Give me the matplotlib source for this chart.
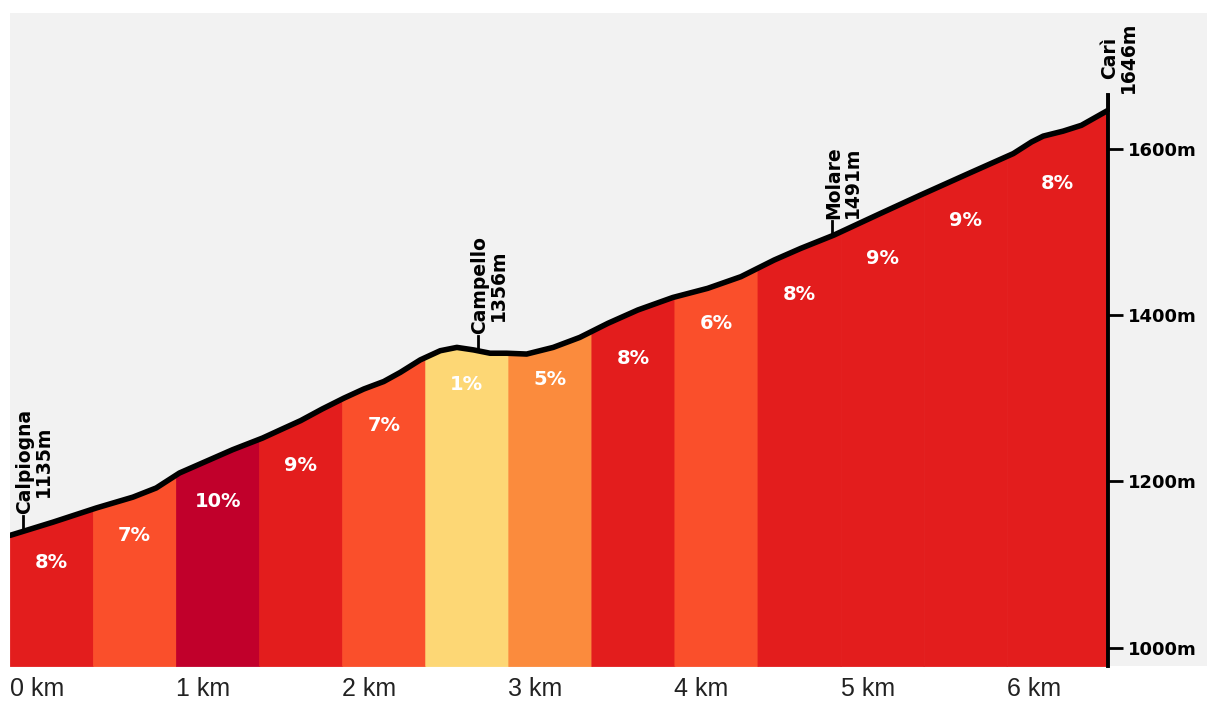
import numpy as np
import matplotlib.pyplot as plt
from matplotlib.patches import Rectangle


# elevation profile: distance (km) / elevation (m)
dist_km = np.array([0.00, 0.26, 0.52, 0.74, 0.88, 1.02, 1.18, 1.34, 1.52, 1.64, 1.75,
                    1.88, 2.01, 2.13, 2.25, 2.35, 2.47, 2.59, 2.69, 2.79, 2.89, 2.99,
                    3.11, 3.27, 3.43, 3.60, 3.78, 3.99, 4.20, 4.40, 4.60, 4.76, 4.96,
                    5.24, 5.48, 5.77, 6.04, 6.15, 6.22, 6.34, 6.45, 6.61])
elev_m = np.array([1135, 1151, 1168, 1181, 1192, 1210, 1224, 1238, 1252, 1263, 1273,
                   1287, 1300, 1311, 1320, 1331, 1346, 1357, 1361, 1358, 1354, 1354,
                   1353, 1361, 1373, 1390, 1406, 1421, 1432, 1446, 1466, 1480, 1496,
                   1522, 1544, 1570, 1594, 1608, 1615, 1621, 1628, 1646])

# gradient segments (every 500 m)
seg_start = [0.0, 0.5, 1.0, 1.5, 2.0, 2.5, 3.0, 3.5, 4.0, 4.5, 5.0, 5.5, 6.0]
seg_end = seg_start[1:] + [6.61]
seg_grade = [8, 7, 10, 9, 7, 1, 5, 8, 6, 8, 9, 9, 8]

# named points along the climb
places = ["Calpiogna", "Campello", "Molare", "Carì"]
place_km = [0.08, 2.82, 4.95, 6.61]
place_elev = [1135, 1356, 1491, 1646]

km_ticks = [0, 1, 2, 3, 4, 5, 6]
km_labels = ["0 km", "1 km", "2 km", "3 km", "4 km", "5 km", "6 km"]
elev_ticks = [1000, 1200, 1400, 1600]
elev_labels = ["1000m", "1200m", "1400m", "1600m"]


def grade_color(g):
    if g <= 2:
        return "#fdd775"
    if g <= 5:
        return "#fb8b3d"
    if g <= 7:
        return "#fa4f2b"
    if g <= 9:
        return "#e31d1d"
    return "#c1002b"


W, H = 1207, 706
fig = plt.figure(figsize=(W / 100, H / 100), dpi=100)
fig.patch.set_facecolor("white")

# light gray panel behind the plot (extends under the right labels)
fig.add_artist(Rectangle((10 / W, 40 / H), (W - 10) / W, 653 / H,
                         transform=fig.transFigure, facecolor="#f2f2f2",
                         edgecolor="none", zorder=0))

ax = fig.add_axes([10 / W, 40 / H, 1098 / W, 653 / H])
ax.set_facecolor("none")
ymin, ymax = 978, 1763
ax.set_xlim(0, seg_end[-1])
ax.set_ylim(ymin, ymax)

# coloured gradient blocks
for s, e, g in zip(seg_start, seg_end, seg_grade):
    xs = np.concatenate([[s], dist_km[(dist_km > s) & (dist_km < e)], [e]])
    ys = np.interp(xs, dist_km, elev_m)
    c = grade_color(g)
    ax.fill_between(xs, ymin, ys, color=c, edgecolor=c, linewidth=0.6, zorder=2)
    y0 = np.interp(s, dist_km, elev_m)
    ax.text((s + e) / 2, y0 - 32, f"{g}%", ha="center", va="center",
            color="white", fontsize=14, fontweight="bold", zorder=4)

# profile line
ax.plot(dist_km, elev_m, color="black", linewidth=4,
        solid_capstyle="round", solid_joinstyle="round", zorder=5)

# right-hand axis line up to the summit
ax.plot([seg_end[-1]] * 2, [ymin, place_elev[-1] + 18], color="black",
        linewidth=2.8, zorder=6, clip_on=False)

# place markers
for name, km, el in zip(places, place_km, place_elev):
    yb = np.interp(km, dist_km, elev_m)
    ax.plot([km, km], [yb, yb + 18], color="black", linewidth=2, zorder=6,
            clip_on=False)
    ax.annotate(f"{name}\n{el}m", xy=(km, yb + 18), xytext=(11, 2),
                textcoords="offset pixels", rotation=90, ha="center",
                va="bottom", multialignment="center", fontsize=13.5,
                fontweight="bold", color="black", linespacing=1.0,
                annotation_clip=False, zorder=7)

# axes styling
for sp in ax.spines.values():
    sp.set_visible(False)

ax.set_xticks(km_ticks)
ax.set_xticklabels(km_labels, ha="left", fontsize=18, color="#222222",
                   family="Liberation Sans")
ax.tick_params(axis="x", length=0, pad=8)

ax.yaxis.tick_right()
ax.set_yticks(elev_ticks)
ax.set_yticklabels(elev_labels, fontsize=13, fontweight="bold")
ax.tick_params(axis="y", length=11, width=2, pad=3, colors="black")

plt.savefig("out.png", dpi=100)
